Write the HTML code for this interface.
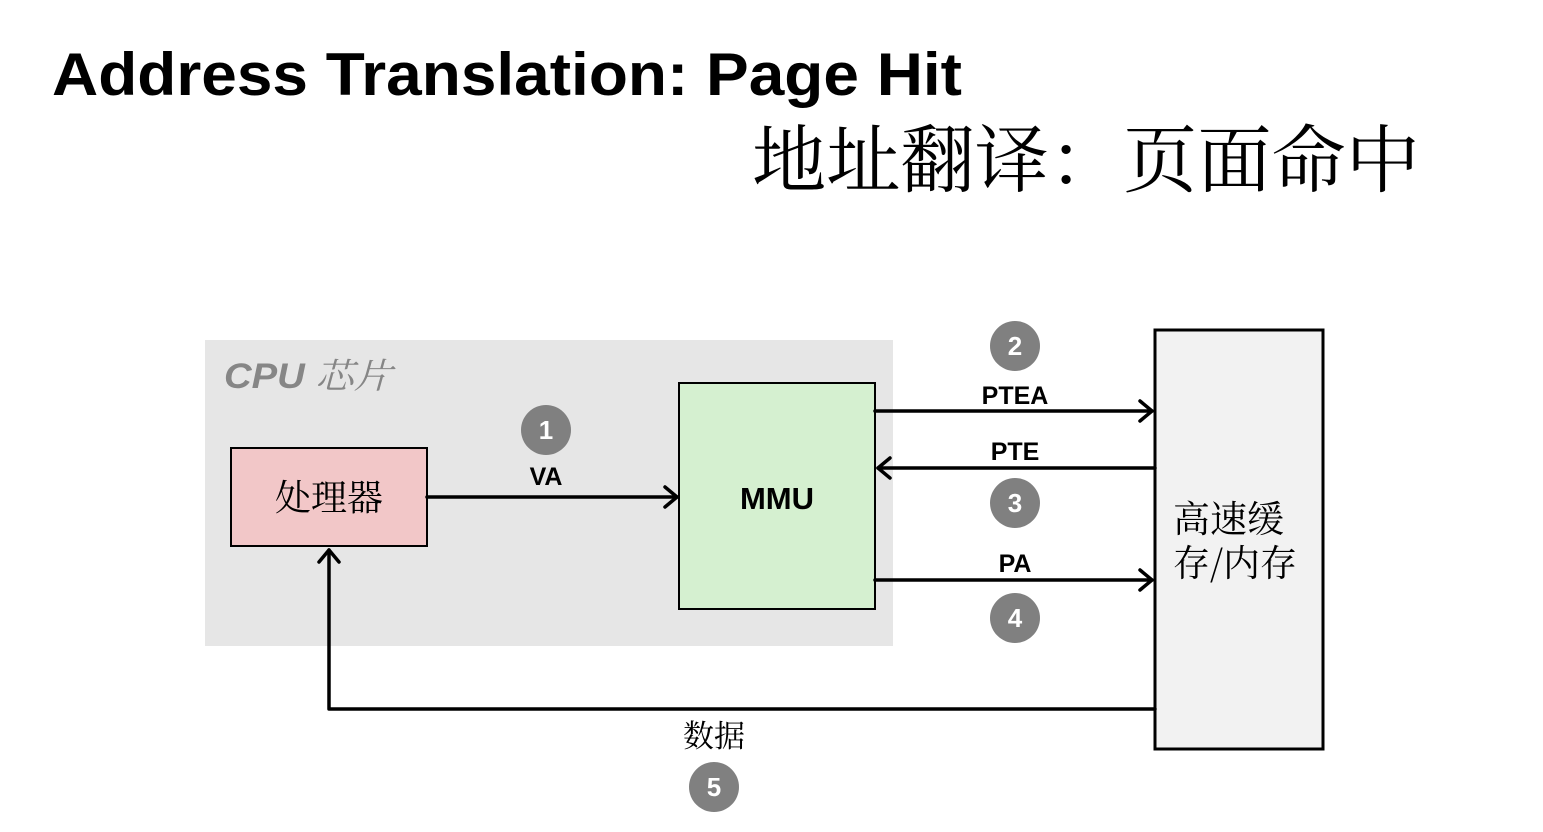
<!DOCTYPE html>
<html><head><meta charset="utf-8"><style>
html,body{margin:0;padding:0;background:#fff;width:1543px;height:832px;overflow:hidden}
svg{display:block}
</style></head><body>
<svg width="1543" height="832" xmlns="http://www.w3.org/2000/svg">
<text x="52" y="95" textLength="910" lengthAdjust="spacingAndGlyphs" font-family="Liberation Sans, DejaVu Sans, sans-serif" font-weight="bold" font-size="60" fill="#000">Address Translation: Page Hit</text>
<text x="752" y="186" textLength="668" lengthAdjust="spacingAndGlyphs" font-family="Noto Serif CJK SC, serif" font-size="74" fill="#000">地址翻译：页面命中</text>
<rect x="205" y="340" width="688" height="306" fill="#e6e6e6"/>
<text x="224" y="388" textLength="168" lengthAdjust="spacingAndGlyphs" font-family="Liberation Sans, Noto Sans CJK SC, sans-serif" font-style="italic" font-weight="bold" font-size="35" fill="#868686">CPU <tspan font-weight="normal" font-family="Noto Serif CJK SC, serif">芯片</tspan></text>
<rect x="231" y="448" width="196" height="98" fill="#f2c7c8" stroke="#000" stroke-width="2"/>
<text x="329" y="510" text-anchor="middle" font-family="Noto Serif CJK SC, serif" font-size="36" fill="#000">处理器</text>
<rect x="679" y="383" width="196" height="226" fill="#d5f0d0" stroke="#000" stroke-width="2"/>
<text x="777" y="509" text-anchor="middle" font-family="Liberation Sans, sans-serif" font-weight="bold" font-size="31" fill="#000">MMU</text>
<rect x="1155" y="330" width="168" height="419" fill="#f2f2f2" stroke="#000" stroke-width="3"/>
<text x="1173" y="532" font-family="Noto Serif CJK SC, serif" font-size="37" fill="#000">高速缓</text>
<text x="1173" y="576" font-family="Noto Serif CJK SC, serif" font-size="37" fill="#000">存/内存</text>
<g stroke="#000" stroke-width="3.5" fill="none" stroke-linecap="round" stroke-linejoin="round">
<line x1="427" y1="497" x2="677" y2="497"/><polyline points="665,487 677,497 665,507"/>
<line x1="875" y1="411" x2="1152" y2="411"/><polyline points="1140,401 1152,411 1140,421"/>
<line x1="878" y1="468" x2="1155" y2="468"/><polyline points="890,458 878,468 890,478"/>
<line x1="875" y1="580" x2="1152" y2="580"/><polyline points="1140,570 1152,580 1140,590"/>
<polyline points="1155,709 329,709 329,550"/><polyline points="319,562 329,550 339,562"/>
</g>
<g font-family="Liberation Sans, sans-serif" font-weight="bold" font-size="25" fill="#000" text-anchor="middle">
<text x="546" y="485">VA</text>
<text x="1015" y="404">PTEA</text>
<text x="1015" y="460">PTE</text>
<text x="1015" y="572">PA</text>
</g>
<text x="714" y="747" text-anchor="middle" font-family="Noto Serif CJK SC, serif" font-size="31" fill="#000">数据</text>
<g fill="#808080">
<circle cx="546" cy="430" r="25"/><circle cx="1015" cy="346" r="25"/><circle cx="1015" cy="503" r="25"/><circle cx="1015" cy="618" r="25"/><circle cx="714" cy="787" r="25"/>
</g>
<g font-family="Liberation Sans, sans-serif" font-weight="bold" font-size="26" fill="#fff" text-anchor="middle">
<text x="546" y="439">1</text><text x="1015" y="355">2</text><text x="1015" y="512">3</text><text x="1015" y="627">4</text><text x="714" y="796">5</text>
</g>
</svg>
</body></html>
